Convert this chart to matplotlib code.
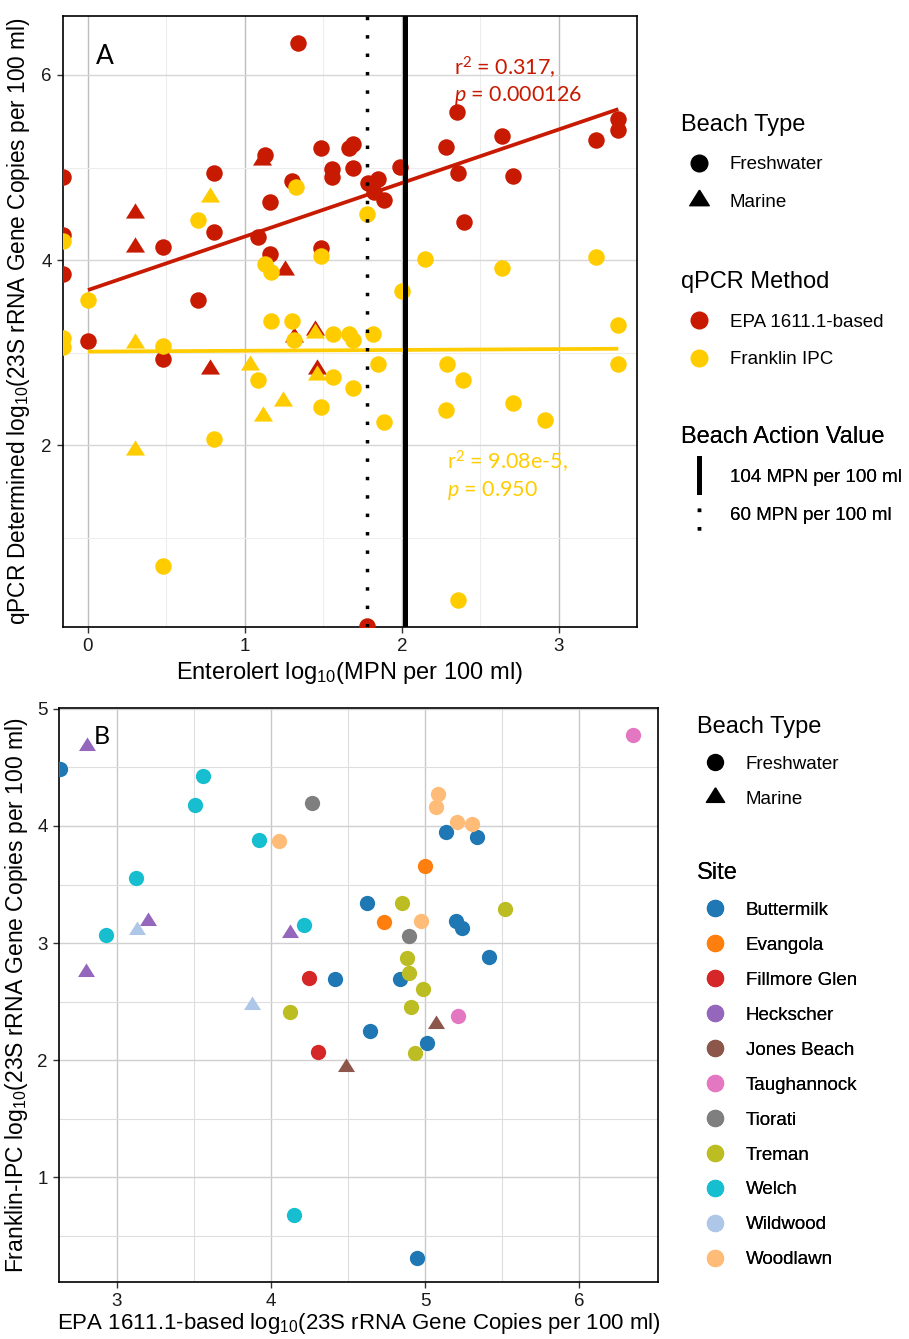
import matplotlib
matplotlib.use("Agg")
import matplotlib.pyplot as plt
from matplotlib.lines import Line2D
from matplotlib.legend_handler import HandlerBase

plt.rcParams["font.family"] = ["Liberation Sans", "DejaVu Sans"]
plt.rcParams["mathtext.fontset"] = "custom"
plt.rcParams["mathtext.rm"] = "Liberation Sans"
plt.rcParams["mathtext.it"] = "Lato:italic"

# ---- panel A data: Enterolert vs qPCR ----
epa_fresh_x = [-0.16, -0.16, -0.16, 0.00, 0.48, 0.48, 0.70, 0.80, 0.80, 1.085, 1.13, 1.16, 1.16,
               1.30, 1.336, 1.484, 1.484, 1.556, 1.556, 1.664, 1.69, 1.69, 1.785, 1.849, 1.822,
               1.885, 1.987, 2.28, 2.35, 2.355, 2.395, 2.635, 2.71, 3.236, 3.378, 3.378, 1.775]
epa_fresh_y = [4.90, 4.27, 3.85, 3.12, 2.93, 4.14, 3.57, 4.30, 4.94, 4.25, 5.14, 4.63, 4.06,
               4.85, 6.35, 5.21, 4.13, 4.98, 4.90, 5.21, 5.25, 4.99, 4.83, 4.88, 4.74,
               4.65, 5.01, 5.22, 5.60, 4.94, 4.41, 5.34, 4.91, 5.30, 5.52, 5.41, 0.04]
epa_marine_x = [0.30, 0.30, 0.777, 1.11, 1.255, 1.31, 1.446, 1.456]
epa_marine_y = [4.51, 4.14, 2.82, 5.08, 3.89, 3.17, 3.24, 2.82]

ipc_fresh_x = [-0.16, -0.16, -0.16, 0.00, 0.48, 0.48, 0.80, 1.085, 1.484, 0.70, 1.127, 1.163, 1.325,
               1.484, 1.163, 1.30, 1.31, 1.56, 1.665, 1.69, 1.817, 1.845, 1.56, 1.69, 1.887,
               1.775, 2.285, 2.39, 2.28, 2.71, 2.91, 3.378, 3.378, 2.36, 2.146, 2.635, 3.234, 1.998]
ipc_fresh_y = [4.21, 3.16, 3.06, 3.57, 3.07, 0.69, 2.065, 2.70, 2.41, 4.43, 3.96, 3.87, 4.79,
               4.04, 3.34, 3.34, 3.13, 3.20, 3.20, 3.14, 3.20, 2.875, 2.74, 2.62, 2.25,
               4.50, 2.875, 2.70, 2.38, 2.45, 2.27, 2.88, 3.30, 0.324, 4.01, 3.91, 4.03, 3.665]
ipc_marine_x = [0.30, 0.30, 0.78, 1.03, 1.117, 1.245, 1.446, 1.456]
ipc_marine_y = [3.10, 1.95, 4.68, 2.86, 2.31, 2.48, 3.21, 2.76]

# fitted lines (slope, intercept) over the fitted x range
epa_fit = (0.579, 3.675)
ipc_fit = (0.009, 3.01)
fit_range = [0.0, 3.378]
epa_stats = [r"r$\mathregular{^2}$ = 0.317,", r"$\mathit{p}$ = 0.000126"]
ipc_stats = [r"r$\mathregular{^2}$ = 9.08e-5,", r"$\mathit{p}$ = 0.950"]

bav_values = [2.017, 1.778]   # log10(104), log10(60)
bav_labels = ["104 MPN per 100 ml", "60 MPN per 100 ml"]

# ---- panel B data: EPA vs Franklin per site ----
sites = ["Buttermilk", "Evangola", "Fillmore Glen", "Heckscher", "Jones Beach", "Taughannock",
         "Tiorati", "Treman", "Welch", "Wildwood", "Woodlawn"]
site_colors = ["#1f77b4", "#ff7f0e", "#d62728", "#9467bd", "#8c564b", "#e377c2",
               "#7f7f7f", "#bcbd22", "#17becf", "#aec7e8", "#ffbb78"]
marine_sites = ["Heckscher", "Jones Beach", "Wildwood"]
site_epa = {
    "Buttermilk": [2.632, 5.136, 5.338, 4.62, 5.198, 5.24, 5.416, 4.84, 4.416, 4.645, 5.014, 4.945],
    "Evangola": [5.0, 4.733],
    "Fillmore Glen": [4.25, 4.303],
    "Heckscher": [2.81, 3.205, 2.80, 4.124],
    "Jones Beach": [5.07, 4.49],
    "Taughannock": [6.346, 5.216],
    "Tiorati": [4.265, 4.898],
    "Treman": [4.852, 5.518, 4.88, 4.896, 4.984, 4.906, 4.124, 4.937],
    "Welch": [3.56, 3.51, 3.925, 3.123, 2.93, 4.215, 4.147],
    "Wildwood": [3.13, 3.88],
    "Woodlawn": [4.055, 5.086, 5.07, 5.205, 5.302, 4.975],
}
site_ipc = {
    "Buttermilk": [4.49, 3.95, 3.905, 3.34, 3.19, 3.125, 2.88, 2.69, 2.69, 2.25, 2.147, 0.31],
    "Evangola": [3.654, 3.18],
    "Fillmore Glen": [2.70, 2.066],
    "Heckscher": [4.68, 3.19, 2.75, 3.09],
    "Jones Beach": [2.31, 1.94],
    "Taughannock": [4.78, 2.38],
    "Tiorati": [4.20, 3.06],
    "Treman": [3.34, 3.29, 2.87, 2.74, 2.61, 2.457, 2.41, 2.057],
    "Welch": [4.43, 4.18, 3.88, 3.555, 3.065, 3.155, 0.68],
    "Wildwood": [3.11, 2.47],
    "Woodlawn": [3.87, 4.275, 4.16, 4.03, 4.02, 3.19],
}

RED = "#C81A00"
YELLOW = "#FFCC00"
TRI = [(0, 0.533), (-0.5, -0.267), (0.5, -0.267), (0, 0.533)]
W, H = 909, 1339


class VLineHandler(HandlerBase):
    def create_artists(self, legend, orig_handle, xdescent, ydescent, width, height, fontsize, trans):
        x = 0.5 * width - xdescent
        ext = 0.55 * fontsize
        line = Line2D([x, x], [-ydescent - ext, height - ydescent + ext])
        line.update_from(orig_handle)
        line.set_transform(trans)
        return [line]


def style_axes(ax, xmajor, xminor, ymajor, yminor, xcol, ycol, mcol):
    ax.set_xticks(xmajor)
    ax.set_xticks(xminor, minor=True)
    ax.set_yticks(ymajor)
    ax.set_yticks(yminor, minor=True)
    ax.grid(True, which="major", axis="x", color=xcol, lw=1.0)
    ax.grid(True, which="major", axis="y", color=ycol, lw=1.0)
    ax.grid(True, which="minor", color=mcol, lw=0.8)
    ax.set_axisbelow(True)
    ax.tick_params(which="major", labelsize=13.5, length=4, width=1, color="#333333",
                   labelcolor="#1a1a1a", pad=4)
    ax.tick_params(which="minor", length=0)
    for s in ax.spines.values():
        s.set_linewidth(1.2)
        s.set_color("black")


def add_legend(ax, handles, labels, title, top_px, left_px, spacing, handler_map=None):
    leg = ax.legend(handles, labels, title=title, loc="upper left",
                    bbox_to_anchor=(left_px / W, 1 - top_px / H), bbox_transform=fig.transFigure,
                    frameon=False, borderpad=0, borderaxespad=0, alignment="left",
                    fontsize=13.5, title_fontsize=17, labelspacing=spacing,
                    handlelength=1.9, handletextpad=0.7, handler_map=handler_map)
    ax.add_artist(leg)


fig = plt.figure(figsize=(W / 100, H / 100), dpi=100)

# ---------------- panel A ----------------
axA = fig.add_axes([62.7 / W, 1 - 626.7 / H, (637 - 62.7) / W, (626.7 - 15.7) / H])
axA.set_xlim(-0.161, 3.497)
axA.set_ylim(0.036, 6.641)
style_axes(axA, [0, 1, 2, 3], [0.5, 1.5, 2.5], [2, 4, 6], [1, 3, 5],
           "#BDBDBD", "#D6D6D6", "#EDEDED")

axA.scatter(epa_fresh_x, epa_fresh_y, s=141, marker="o", color=RED, lw=0, zorder=3)
axA.scatter(epa_marine_x, epa_marine_y, s=213, marker=TRI, color=RED, lw=0, zorder=3)
axA.scatter(ipc_fresh_x, ipc_fresh_y, s=141, marker="o", color=YELLOW, lw=0, zorder=4)
axA.scatter(ipc_marine_x, ipc_marine_y, s=213, marker=TRI, color=YELLOW, lw=0, zorder=4)

for (slope, icpt), col in [(epa_fit, RED), (ipc_fit, YELLOW)]:
    axA.plot(fit_range, [icpt + slope * v for v in fit_range], color=col, lw=2.7,
             solid_capstyle="butt", zorder=5)

axA.axvline(bav_values[0], color="black", lw=3.6, zorder=6)
axA.axvline(bav_values[1], color="black", lw=2.5, ls=(0, (1, 4.3)), zorder=6)

axA.text(2.33, 6.076, epa_stats[0], color=RED, fontsize=15.5, family="Lato", va="center")
axA.text(2.33, 5.78, epa_stats[1], color=RED, fontsize=15.5, family="Lato", va="center")
axA.text(2.285, 1.82, ipc_stats[0], color=YELLOW, fontsize=15.5, family="Lato", va="center")
axA.text(2.285, 1.506, ipc_stats[1], color=YELLOW, fontsize=15.5, family="Lato", va="center")
axA.text(0.073, 0.934, "A", transform=axA.transAxes, fontsize=19, family="Lato",
         ha="center", va="center")

axA.set_xlabel(r"Enterolert log$\mathregular{_{10}}$(MPN per 100 ml)", fontsize=17)
axA.set_ylabel(r"qPCR Determined log$\mathregular{_{10}}$(23S rRNA Gene Copies per 100 ml)",
               fontsize=16.3)
axA.xaxis.set_label_coords(0.5, -0.054)
axA.yaxis.set_label_coords(-0.054, 0.5)

shape_handles = [Line2D([], [], ls="None", marker="o", color="black", markersize=12),
                 Line2D([], [], ls="None", marker=TRI, color="black", markersize=15)]
add_legend(axA, shape_handles, ["Freshwater", "Marine"], "Beach Type", 113.5, 681, 1.1)
method_handles = [Line2D([], [], ls="None", marker="o", color=RED, markersize=12),
                  Line2D([], [], ls="None", marker="o", color=YELLOW, markersize=12)]
add_legend(axA, method_handles, ["EPA 1611.1-based", "Franklin IPC"], "qPCR Method",
           271, 681, 1.1)
bav_handles = [Line2D([], [], color="black", lw=3.6),
               Line2D([], [], color="black", lw=2.5, ls=(0, (1, 4.3)))]
add_legend(axA, bav_handles, bav_labels, "Beach Action Value", 426, 681, 1.1,
           handler_map={Line2D: VLineHandler()})

# ---------------- panel B ----------------
axB = fig.add_axes([59 / W, 1 - 1282 / H, (658 - 59) / W, (1282 - 708.3) / H])
axB.set_xlim(2.626, 6.51)
axB.set_ylim(0.105, 5.005)
style_axes(axB, [3, 4, 5, 6], [3.5, 4.5, 5.5], [1, 2, 3, 4, 5], [0.5, 1.5, 2.5, 3.5, 4.5],
           "#C8C8C8", "#D0D0D0", "#DEDEDE")

for site, col in zip(sites, site_colors):
    marine = site in marine_sites
    axB.scatter(site_epa[site], site_ipc[site], s=170 if marine else 121,
                marker=TRI if marine else "o", color=col, lw=0, zorder=3)

axB.text(0.072, 0.9505, "B", transform=axB.transAxes, fontsize=18, family="Lato",
         ha="center", va="center")
axB.set_xlabel(r"EPA 1611.1-based log$\mathregular{_{10}}$(23S rRNA Gene Copies per 100 ml)",
               fontsize=16)
axB.set_ylabel(r"Franklin-IPC log$\mathregular{_{10}}$(23S rRNA Gene Copies per 100 ml)",
               fontsize=16.5)
axB.xaxis.set_label_coords(0.5, -0.05)
axB.yaxis.set_label_coords(-0.049, 0.5)

shape_handles_b = [Line2D([], [], ls="None", marker="o", color="black", markersize=11.5),
                   Line2D([], [], ls="None", marker=TRI, color="black", markersize=14)]
add_legend(axB, shape_handles_b, ["Freshwater", "Marine"], "Beach Type", 716, 697, 0.95)
site_handles = [Line2D([], [], ls="None", marker="o", color=c, markersize=11.5) for c in site_colors]
add_legend(axB, site_handles, sites, "Site", 862, 697, 0.95)

fig.savefig("out.png", dpi=100)
